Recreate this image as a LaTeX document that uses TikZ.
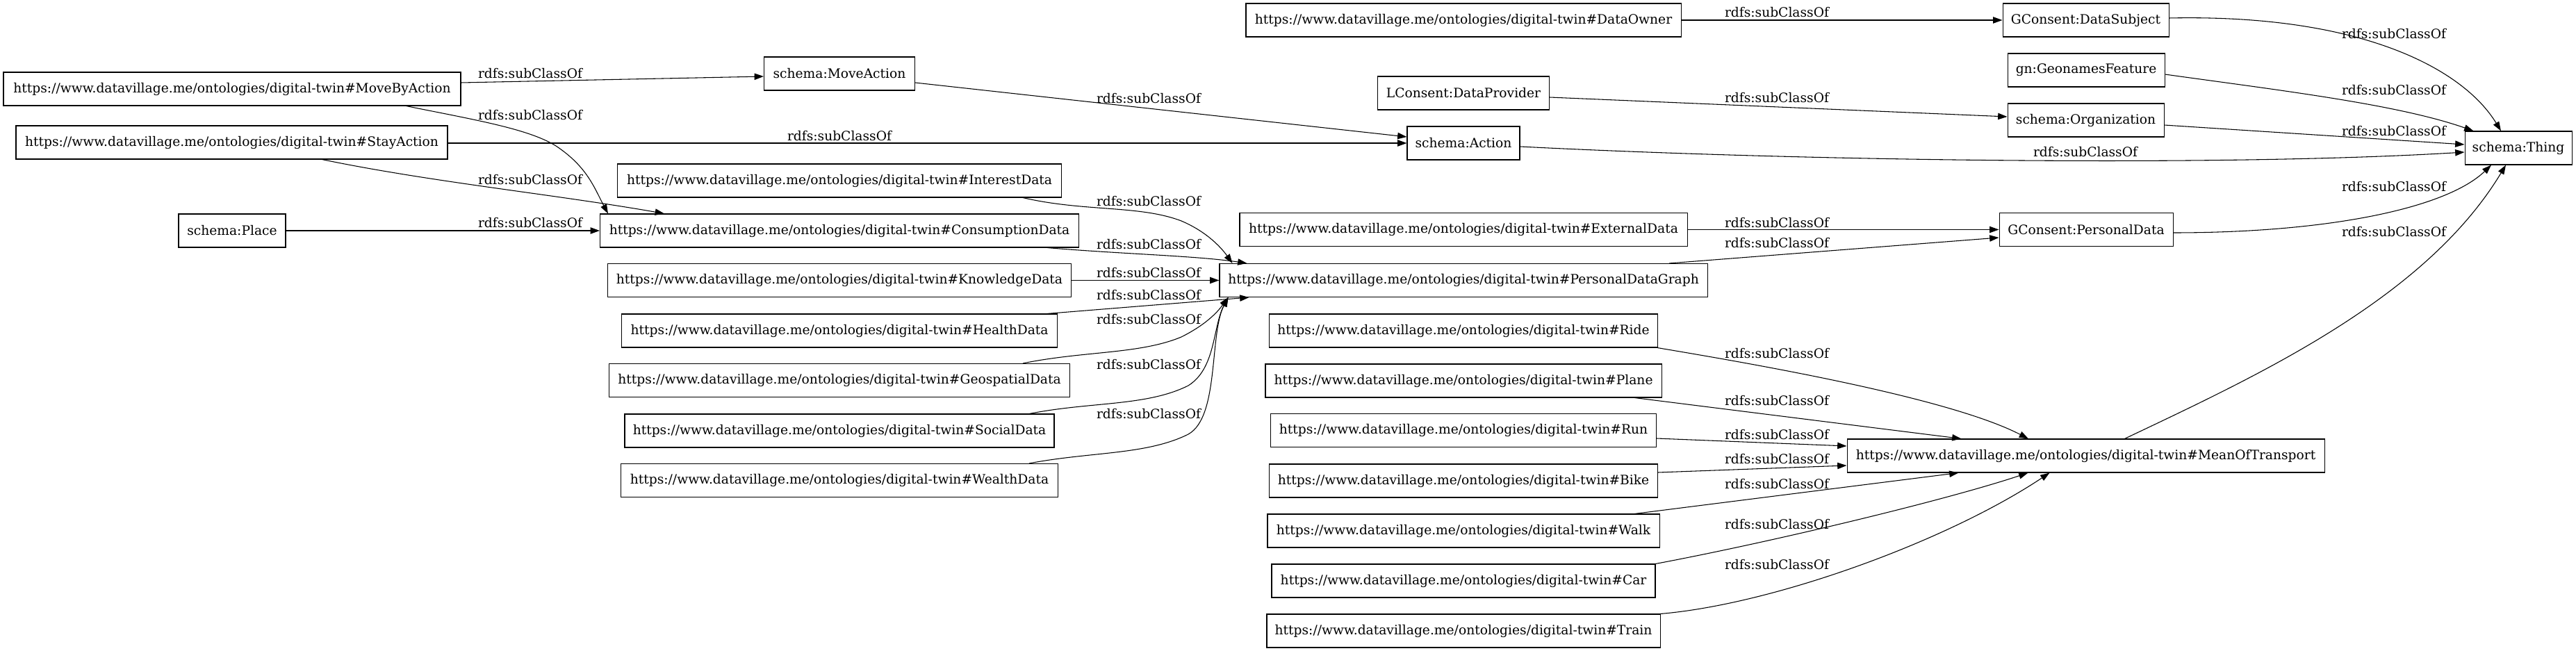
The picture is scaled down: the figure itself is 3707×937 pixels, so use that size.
\documentclass[tikz,border=0pt]{standalone}
\usepackage{fontspec}
\setmainfont{DejaVu Serif}
\usetikzlibrary{arrows.meta,calc}
\newcommand\dvpre{https://www.datavillage.me/ontologies/digital-twin\#}
\begin{document}
\begin{tikzpicture}[x=0.75pt,y=-0.75pt,
  bx/.style={draw, line width=0.8pt, minimum height=36pt, minimum width={#1*0.75pt}, inner sep=0pt, font=\fontsize{14pt}{16.8pt}\selectfont},
  lbl/.style={inner sep=0pt, font=\fontsize{14pt}{16.8pt}\selectfont},
  edge/.style={draw, line width=0.8pt, -{Triangle[length=10pt,width=7pt]}}]
\useasboundingbox (0,0) rectangle (3707,937);
% nodes
\node[bx=658] (mba) at (334,128) {\dvpre MoveByAction};
\node[bx=621] (stay) at (333.5,205) {\dvpre StayAction};
\node[bx=154] (place) at (334,332) {schema:Place};
\node[bx=217] (mact) at (1208,106) {schema:MoveAction};
\node[bx=639] (int) at (1208,260) {\dvpre InterestData};
\node[bx=689] (cons) at (1208,332) {\dvpre ConsumptionData};
\node[bx=667] (know) at (1208,403.5) {\dvpre KnowledgeData};
\node[bx=627] (health) at (1208,476) {\dvpre HealthData};
\node[bx=663] (geo) at (1208,547.5) {\dvpre GeospatialData};
\node[bx=618] (soc) at (1208,620) {\dvpre SocialData};
\node[bx=629] (wealth) at (1208,691.5) {\dvpre WealthData};
\node[bx=626] (owner) at (2106,29) {\dvpre DataOwner};
\node[bx=247] (prov) at (2106,134) {LConsent:DataProvider};
\node[bx=162] (act) at (2106,206) {schema:Action};
\node[bx=644] (ext) at (2106,330.5) {\dvpre ExternalData};
\node[bx=702] (pdg) at (2106,403.5) {\dvpre PersonalDataGraph};
\node[bx=559] (ride) at (2106,476) {\dvpre Ride};
\node[bx=570] (plane) at (2106,548) {\dvpre Plane};
\node[bx=555] (run) at (2106,619.5) {\dvpre Run};
\node[bx=559] (bike) at (2106,692) {\dvpre Bike};
\node[bx=564] (walk) at (2106,764) {\dvpre Walk};
\node[bx=552] (car) at (2106,836) {\dvpre Car};
\node[bx=566] (train) at (2106,908) {\dvpre Train};
\node[bx=239] (ds) at (3001.5,29) {GConsent:DataSubject};
\node[bx=226] (geon) at (3002,101) {gn:GeonamesFeature};
\node[bx=225] (org) at (3001.5,173) {schema:Organization};
\node[bx=250] (gcpd) at (3002,330.5) {GConsent:PersonalData};
\node[bx=687] (mot) at (3001.5,656) {\dvpre MeanOfTransport};
\node[bx=154] (thing) at (3624,213) {schema:Thing};
% edges
\draw[edge] ($(mba.east)+(0,-9)$) -- ($(mact.west)+(0,4)$);
\draw[edge] ($(mba.south west)+(580,0)$) .. controls (680,172) and (760,185) .. (800,210) .. controls (845,240) and (855,270) .. ($(cons.north west)+(12,0)$);
\draw[edge] ($(stay.east)+(0,1)$) -- (act.west);
\draw[edge] ($(stay.south west)+(441,0)$) .. controls (620,262) and (800,280) .. ($(cons.north west)+(93,0)$);
\draw[edge] (place.east) -- (cons.west);
\draw[edge] ($(mact.east)+(0,13)$) -- ($(act.west)+(0,-9)$);
\draw[edge] ($(int.south west)+(584,0)$) .. controls (1560,305) and (1640,295) .. (1700,318) .. controls (1740,335) and (1760,360) .. ($(pdg.north west)+(19,0)$);
\draw[edge] ($(cons.south west)+(644,0)$) .. controls (1620,366) and (1720,368) .. ($(pdg.north west)+(40,0)$);
\draw[edge] (know.east) -- (pdg.west);
\draw[edge] ($(health.north west)+(613,0)$) -- ($(pdg.south west)+(43,0)$);
\draw[edge] ($(geo.north west)+(596,0)$) .. controls (1560,505) and (1640,510) .. (1700,485) .. controls (1740,465) and (1755,445) .. ($(pdg.south west)+(13,0)$);
\draw[edge] ($(soc.north west)+(583,0)$) .. controls (1570,578) and (1650,585) .. (1710,555) .. controls (1750,530) and (1745,470) .. ($(pdg.south west)+(13,0)$);
\draw[edge] ($(wealth.north west)+(588,0)$) .. controls (1570,650) and (1650,655) .. (1710,625) .. controls (1755,600) and (1740,480) .. ($(pdg.south west)+(13,0)$);
\draw[edge] (owner.east) -- (ds.west);
\draw[edge] ($(prov.east)+(0,6)$) -- ($(org.west)+(0,-5)$);
\draw[edge] ($(act.east)+(0,5)$) .. controls (2600,232) and (3200,240) .. ($(thing.west)+(0,6)$);
\draw[edge] (ext.east) -- (gcpd.west);
\draw[edge] ($(pdg.north east)+(-55.5,0)$) -- ($(gcpd.west)+(0,11.5)$);
\draw[edge] ($(ds.east)+(0,-3)$) .. controls (3400,20) and (3545,100) .. ($(thing.north)+(-25,0)$);
\draw[edge] ($(geon.east)+(0,6)$) .. controls (3280,130) and (3450,150) .. ($(thing.north west)+(13,0)$);
\draw[edge] ($(org.east)+(0,7)$) -- ($(thing.west)+(0,-5)$);
\draw[edge] ($(gcpd.east)+(0,4.5)$) .. controls (3350,335) and (3520,300) .. ($(thing.south)+(-39,0)$);
\draw[edge] ($(mot.north west)+(400,0)$) .. controls (3250,540) and (3490,430) .. ($(thing.south)+(-18,0)$);
\draw[edge] ($(ride.south east)+(-1,0)$) .. controls (2500,520) and (2800,570) .. ($(mot.north west)+(261.5,0)$);
\draw[edge] ($(plane.south east)+(-39,0)$) -- ($(mot.north west)+(165,0)$);
\draw[edge] ($(run.east)+(0,11.5)$) -- ($(mot.west)+(0,-14)$);
\draw[edge] ($(bike.east)+(0,-12)$) -- ($(mot.west)+(0,14)$);
\draw[edge] ($(walk.north east)+(-36,0)$) -- ($(mot.south west)+(161,0)$);
\draw[edge] (car.north east) .. controls (2550,780) and (2800,720) .. ($(mot.south west)+(261,0)$);
\draw[edge] (train.north east) .. controls (2550,870) and (2800,780) .. ($(mot.south west)+(292,0)$);
% labels
\node[lbl] (l1) at (763,106) {rdfs:subClassOf};
\node[lbl] (l2) at (763,166) {rdfs:subClassOf};
\node[lbl] (l3) at (763,258.5) {rdfs:subClassOf};
\node[lbl] (l4) at (763,320.5) {rdfs:subClassOf};
\node[lbl] (l5) at (1208,195.5) {rdfs:subClassOf};
\node[lbl] (l6) at (1653,142) {rdfs:subClassOf};
\node[lbl] (l7) at (1653,289.5) {rdfs:subClassOf};
\node[lbl] (l8) at (1653,352) {rdfs:subClassOf};
\node[lbl] (l9) at (1653,392.5) {rdfs:subClassOf};
\node[lbl] (l10) at (1653,425) {rdfs:subClassOf};
\node[lbl] (l11) at (1653,460) {rdfs:subClassOf};
\node[lbl] (l12) at (1653,524.5) {rdfs:subClassOf};
\node[lbl] (l13) at (1653,596) {rdfs:subClassOf};
\node[lbl] (l14) at (2557,17.5) {rdfs:subClassOf};
\node[lbl] (l15) at (2557,140.5) {rdfs:subClassOf};
\node[lbl] (l16) at (2557,320.5) {rdfs:subClassOf};
\node[lbl] (l17) at (2557,350) {rdfs:subClassOf};
\node[lbl] (l18) at (2557,509) {rdfs:subClassOf};
\node[lbl] (l19) at (2557,577) {rdfs:subClassOf};
\node[lbl] (l20) at (2557,625.5) {rdfs:subClassOf};
\node[lbl] (l21) at (2557,661) {rdfs:subClassOf};
\node[lbl] (l22) at (2557,697) {rdfs:subClassOf};
\node[lbl] (l23) at (2557,755) {rdfs:subClassOf};
\node[lbl] (l24) at (2557,813) {rdfs:subClassOf};
\node[lbl] (l25) at (3445,48.5) {rdfs:subClassOf};
\node[lbl] (l26) at (3445,130) {rdfs:subClassOf};
\node[lbl] (l27) at (3445,188.5) {rdfs:subClassOf};
\node[lbl] (l28) at (3445,269) {rdfs:subClassOf};
\node[lbl] (l29) at (3445,334) {rdfs:subClassOf};
\node[lbl] (l30) at (3001,219) {rdfs:subClassOf};
\end{tikzpicture}
\end{document}
